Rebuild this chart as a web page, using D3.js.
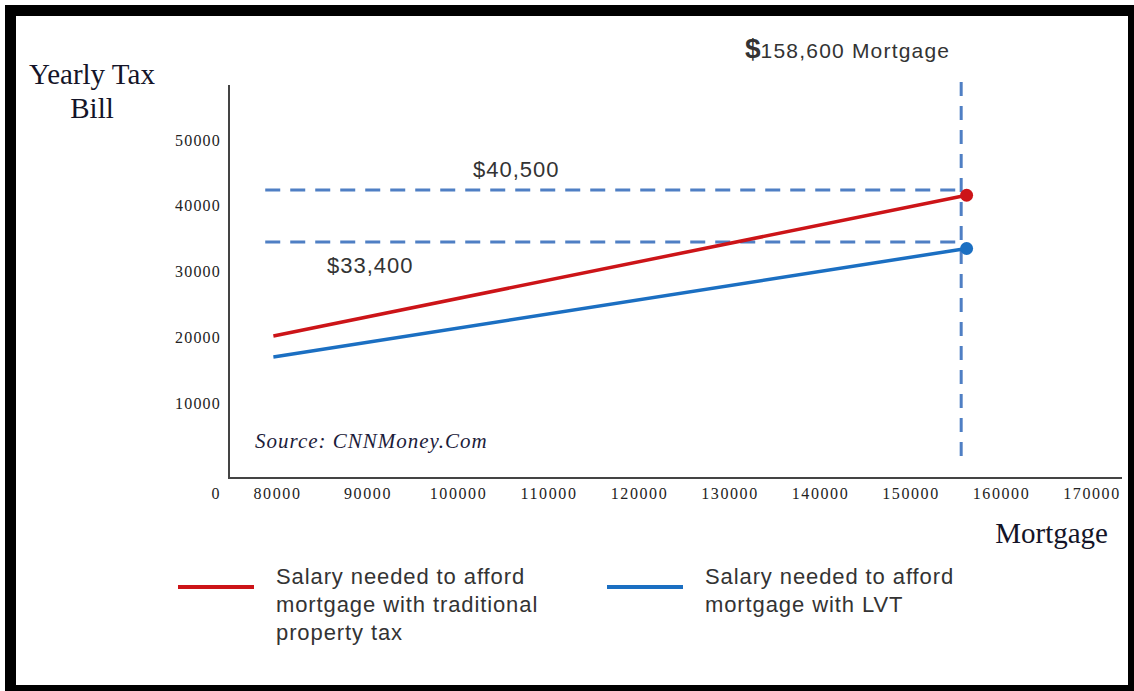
<!DOCTYPE html>
<html>
<head>
<meta charset="utf-8">
<script src="https://cdn.jsdelivr.net/npm/d3@7"></script>
<style>
  body { margin: 0; background: #fff; }
  svg { display: block; }
</style>
</head>
<body>
<svg id="chart" width="1134" height="691"></svg>
<script>
// values
var xTicks = [80000, 90000, 100000, 110000, 120000, 130000, 140000, 150000, 160000, 170000]
var yTicks = [10000, 20000, 30000, 40000, 50000]
var traditional = [[79600, 20200], [156200, 41600]]
var lvt = [[79600, 17000], [156200, 33500]]
var refMortgage = 155600
var refTraditional = 42400
var refLvt = 34500
var refStart = 78700
var zeroLabelAt = 73200

var w = 1134, h = 691
var svg = d3.select("#chart")

// black picture frame
svg.append("rect").attr("x", 5).attr("y", 5).attr("width", w - 5).attr("height", h - 5).attr("fill", "#000")
svg.append("rect").attr("x", 16).attr("y", 16).attr("width", 1112).attr("height", 669).attr("fill", "#fff")

var x = d3.scaleLinear().domain([80000, 170000]).range([277, 1091.5])
var y = d3.scaleLinear().domain([0, 50000]).range([468.75, 140])

var tickFont = "'Liberation Serif', 'Times New Roman', serif"

// axes, no tick marks
var xAxis = svg.append("g")
	.attr("transform", "translate(0,478)")
	.call(d3.axisBottom(x).tickValues(xTicks).tickFormat(d3.format("d")).tickSize(0))
xAxis.select(".domain").remove()
xAxis.selectAll("text")
	.attr("y", 15).attr("dy", "0.35em")
	.attr("font-family", tickFont).attr("font-size", 16)
	.attr("letter-spacing", "1.6px").attr("fill", "#222")

svg.append("text")
	.attr("x", x(zeroLabelAt)).attr("y", 493).attr("dy", "0.35em")
	.attr("text-anchor", "middle")
	.attr("font-family", tickFont).attr("font-size", 16).attr("fill", "#222")
	.text("0")

var yAxis = svg.append("g")
	.attr("transform", "translate(229,0)")
	.call(d3.axisLeft(y).tickValues(yTicks).tickFormat(d3.format("d")).tickSize(0).tickPadding(8))
yAxis.select(".domain").remove()
yAxis.selectAll("text")
	.attr("font-family", tickFont).attr("font-size", 16)
	.attr("letter-spacing", "1.2px").attr("fill", "#222")

svg.append("line").attr("x1", 229).attr("x2", 229).attr("y1", 85).attr("y2", 479)
	.attr("stroke", "#444").attr("stroke-width", 2)
svg.append("line").attr("x1", 228).attr("x2", 1122).attr("y1", 478).attr("y2", 478)
	.attr("stroke", "#444").attr("stroke-width", 2)

// dashed guides
var dashColor = "#4f7fc4"
svg.append("line")
	.attr("x1", x(refMortgage)).attr("x2", x(refMortgage)).attr("y1", 82).attr("y2", 462)
	.attr("stroke", dashColor).attr("stroke-width", 3).attr("stroke-dasharray", "14,10")
;[refTraditional, refLvt].forEach(function(v){
	svg.append("line")
		.attr("x1", x(refStart)).attr("x2", x(refMortgage)).attr("y1", y(v)).attr("y2", y(v))
		.attr("stroke", dashColor).attr("stroke-width", 3).attr("stroke-dasharray", "15,10")
})

// the two series
var line = d3.line().x(function(d){return x(d[0])}).y(function(d){return y(d[1])})
var series = [
	{data: traditional, color: "#cc1418"},
	{data: lvt, color: "#1b6fc2"}
]
series.forEach(function(s){
	svg.append("path").attr("d", line(s.data))
		.attr("fill", "none").attr("stroke", s.color).attr("stroke-width", 3.5)
	var last = s.data[s.data.length - 1]
	svg.append("circle").attr("cx", x(last[0])).attr("cy", y(last[1])).attr("r", 6.5)
		.attr("fill", s.color)
})

// labels
var sans = "'Liberation Sans', Arial, sans-serif"
var serif = "'Liberation Serif', 'Times New Roman', serif"

svg.append("text").attr("x", 473).attr("y", 177)
	.attr("font-family", sans).attr("font-size", 22).attr("letter-spacing", "1px").attr("fill", "#333")
	.text("$40,500")
svg.append("text").attr("x", 327).attr("y", 273)
	.attr("font-family", sans).attr("font-size", 22).attr("letter-spacing", "1px").attr("fill", "#333")
	.text("$33,400")

var mt = svg.append("text").attr("x", 745).attr("y", 58)
	.attr("font-family", sans).attr("fill", "#333")
mt.append("tspan").attr("font-size", 28).attr("font-weight", "bold").text("$")
mt.append("tspan").attr("font-size", 21).attr("letter-spacing", "1.2px").text("158,600 Mortgage")

svg.append("text").attr("x", 92).attr("y", 84).attr("text-anchor", "middle")
	.attr("font-family", serif).attr("font-size", 29).attr("fill", "#141428")
	.text("Yearly Tax")
svg.append("text").attr("x", 92).attr("y", 118).attr("text-anchor", "middle")
	.attr("font-family", serif).attr("font-size", 29).attr("fill", "#141428")
	.text("Bill")

svg.append("text").attr("x", 1108).attr("y", 543).attr("text-anchor", "end")
	.attr("font-family", serif).attr("font-size", 29).attr("fill", "#141428")
	.text("Mortgage")

svg.append("text").attr("x", 255).attr("y", 448)
	.attr("font-family", serif).attr("font-size", 21).attr("font-style", "italic")
	.attr("letter-spacing", "1px").attr("fill", "#1c1c3a")
	.text("Source: CNNMoney.Com")

// legend
var legend = [
	{color: "#cc1418", x: 178, lines: ["Salary needed to afford", "mortgage with traditional", "property tax"]},
	{color: "#1b6fc2", x: 607, lines: ["Salary needed to afford", "mortgage with LVT"]}
]
legend.forEach(function(l){
	svg.append("line").attr("x1", l.x).attr("x2", l.x + 76).attr("y1", 587).attr("y2", 587)
		.attr("stroke", l.color).attr("stroke-width", 4)
	var t = svg.append("text").attr("font-family", sans).attr("font-size", 22)
		.attr("letter-spacing", "0.9px").attr("fill", "#333")
	l.lines.forEach(function(s, i){
		t.append("tspan").attr("x", l.x + 98).attr("y", 584 + i * 28).text(s)
	})
})
</script>
</body>
</html>
